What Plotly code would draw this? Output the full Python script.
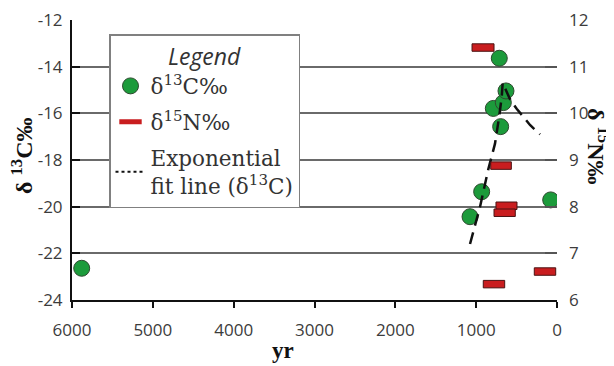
import plotly.graph_objects as go

# δ13C measurements (years BP, value ‰)
c_years = [5880, 1076, 932, 788, 714, 697, 664, 631, 78]
c_values = [-22.64, -20.43, -19.36, -15.79, -13.64, -16.57, -15.54, -15.04, -19.71]

# δ15N measurements: date ranges (older edge, younger edge) and value ‰
n_start = [1051, 820, 755, 779, 912, 281]
n_end = [779, 565, 495, 516, 647, 16]
n_values = [11.41, 8.88, 8.02, 7.87, 6.34, 6.61]

# Exponential fit line for δ13C
fit_years = [1076, 952, 850, 767, 714, 684, 672, 581, 499, 334, 210]
fit_values = [-21.6, -20.0, -18.4, -17.3, -16.1, -15.3, -14.7, -15.4, -15.8, -16.5, -16.9]

x_ticks = [6000, 5000, 4000, 3000, 2000, 1000, 0]
c_ticks = [-12, -14, -16, -18, -20, -22, -24]
n_ticks = [12, 11, 10, 9, 8, 7, 6]
grid_ticks = [-12, -14, -16, -18, -20, -22]

GREEN = "#1c9b3b"
RED = "#c91d1f"
SERIF = "DejaVu Serif"
SANS = "Open Sans"

fig = go.Figure()

# grid carrier axis (y3)
fig.add_trace(go.Scatter(x=[None], y=[None], yaxis="y3", showlegend=False, hoverinfo="skip"))

fig.add_trace(go.Scatter(
    x=c_years, y=c_values, mode="markers", name="δ<sup>13</sup>C‰",
    marker=dict(size=16, color=GREEN, line=dict(color="#2f4a30", width=1)),
    legendgroup="a", yaxis="y",
))
fig.add_trace(go.Scatter(
    x=fit_years, y=fit_values, mode="lines", showlegend=False,
    line=dict(color="#111111", width=2.5, dash="12px,7px"), yaxis="y",
))
fig.add_trace(go.Bar(
    y=n_values, base=n_end, x=[s - e for s, e in zip(n_start, n_end)],
    orientation="h", width=0.16, yaxis="y2", showlegend=False,
    marker=dict(color=RED, line=dict(color="#4a1212", width=1)),
))
# legend-only entries
fig.add_trace(go.Scatter(
    x=[None], y=[None], mode="markers", name="δ<sup>15</sup>N‰",
    marker=dict(symbol="line-ew", size=16, line=dict(color=RED, width=7)),
    legendgroup="b", yaxis="y",
))
fig.add_trace(go.Scatter(
    x=[None], y=[None], mode="lines", name="Exponential<br>fit line (δ<sup>13</sup>C)",
    line=dict(color="#111111", width=2, dash="dot"),
    legendgroup="c", yaxis="y",
))

fig.update_layout(
    template="none",
    width=606, height=358,
    margin=dict(l=64, r=57, t=12, b=66),
    plot_bgcolor="white", paper_bgcolor="white",
    showlegend=True,
    barmode="overlay",
    xaxis=dict(
        range=[6000, 0], tickvals=x_ticks, ticktext=[str(v) for v in x_ticks],
        showline=True, linecolor="#111111", linewidth=2, automargin=False,
        ticks="outside", ticklen=6, tickwidth=2, tickcolor="#111111",
        ticklabelstandoff=8, ticklabeloverflow="allow",
        showgrid=False, zeroline=False,
        tickfont=dict(family=SANS, size=17, color="#3c3c3c"),
    ),
    yaxis=dict(
        range=[-24, -12], tickvals=c_ticks, ticktext=[str(v) for v in c_ticks],
        showline=True, linecolor="#111111", linewidth=2, automargin=False,
        ticks="inside", ticklen=8, tickwidth=2, tickcolor="#111111",
        ticklabelstandoff=4, ticklabeloverflow="allow",
        showgrid=False, zeroline=False,
        tickfont=dict(family=SANS, size=17, color="#3c3c3c"),
    ),
    yaxis2=dict(
        range=[6, 12], tickvals=n_ticks, ticktext=[str(v) for v in n_ticks],
        overlaying="y", side="right", showline=False, automargin=False,
        ticks="inside", ticklen=12, tickwidth=1.5, tickcolor="#555555",
        ticklabelstandoff=11, ticklabeloverflow="allow",
        showgrid=False, zeroline=False,
        tickfont=dict(family=SANS, size=17, color="#3c3c3c"),
    ),
    yaxis3=dict(
        range=[-24, -12], tickvals=grid_ticks, overlaying="y", automargin=False,
        showticklabels=False, showgrid=True, gridcolor="#6a6a6a", gridwidth=1.5,
        zeroline=False, showline=False, ticks="",
    ),
    legend=dict(
        x=(109 - 72) / 485, y=(300 - 34) / 280, xanchor="left", yanchor="top",
        bgcolor="white", bordercolor="#808080", borderwidth=1.5,
        font=dict(family=SERIF, size=21.5, color="#333333"),
        title=dict(text="Legend", side="top center",
                   font=dict(family=SANS, size=23, color="#333333", style="italic")),
        tracegroupgap=5, traceorder="grouped",
    ),
    annotations=[
        dict(text="<b>yr</b>", xref="paper", yref="paper", x=(283 - 72) / 485,
             y=(300 - 350) / 280, xanchor="center", yanchor="middle", showarrow=False,
             font=dict(family="Liberation Serif", size=23, color="#111111")),
        dict(text="<b>δ <sup>13</sup>C‰</b>", xref="paper", yref="paper",
             x=(22 - 72) / 485, y=(300 - 156) / 280, xanchor="center", yanchor="middle",
             textangle=-90, showarrow=False,
             font=dict(family="Liberation Serif", size=24, color="#111111")),
        dict(text="<b>δ <sup>15</sup>N‰</b>", xref="paper", yref="paper",
             x=(598 - 72) / 485, y=(300 - 146) / 280, xanchor="center", yanchor="middle",
             textangle=90, showarrow=False,
             font=dict(family="Liberation Serif", size=24, color="#111111")),
    ],
)

fig.write_html("out.html")
